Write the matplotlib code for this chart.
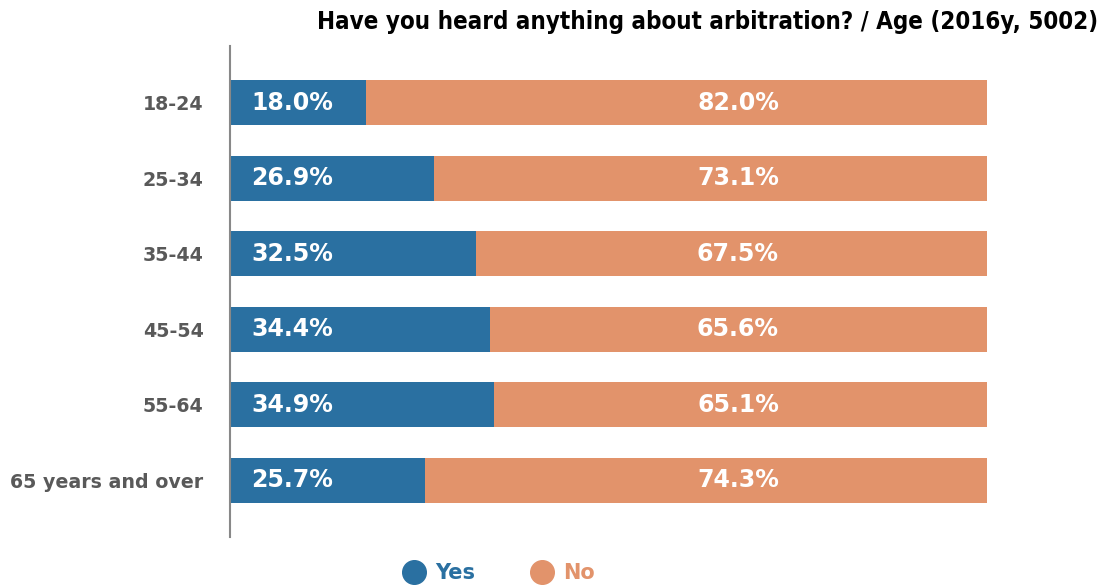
import matplotlib.pyplot as plt
from matplotlib.lines import Line2D

age_groups = ["18-24", "25-34", "35-44", "45-54", "55-64", "65 years and over"]
yes_pct = [18.0, 26.9, 32.5, 34.4, 34.9, 25.7]
no_pct = [82.0, 73.1, 67.5, 65.6, 65.1, 74.3]

BLUE = "#2a70a1"
ORANGE = "#e2936b"

fig = plt.figure(figsize=(11.11, 5.87), dpi=100)
ax = fig.add_axes([230 / 1111, 1 - 537 / 587, 757 / 1111, 491 / 587])

ypos = list(range(len(age_groups)))
ax.barh(ypos, yes_pct, height=0.6, color=BLUE)
ax.barh(ypos, no_pct, left=yes_pct, height=0.6, color=ORANGE)

for y, yv, nv in zip(ypos, yes_pct, no_pct):
    ax.text(2.8, y, f"{yv:.1f}%", color="white", fontsize=17, fontweight="bold",
            ha="left", va="center")
    ax.text(67.1, y, f"{nv:.1f}%", color="white", fontsize=17, fontweight="bold",
            ha="center", va="center")

ax.set_xlim(0, 100)
ax.set_ylim(len(age_groups) - 0.25, -0.75)
ax.set_yticks(ypos)
ax.set_yticklabels(age_groups, fontsize=13.7, fontweight="bold", color="#595959")
ax.tick_params(axis="y", length=0, pad=19)
ax.set_xticks([])
for side in ["top", "right", "bottom"]:
    ax.spines[side].set_visible(False)
ax.spines["left"].set_color("#888888")
ax.spines["left"].set_linewidth(1.5)

fig.text(1098 / 1111, 1 - 22 / 587, "Have you heard anything about arbitration? / Age (2016y, 5002)",
         ha="right", va="center", fontsize=17.3, fontweight="bold", fontstretch="condensed")

handles = [
    Line2D([], [], marker="o", linestyle="none", markersize=17, color=BLUE),
    Line2D([], [], marker="o", linestyle="none", markersize=17, color=ORANGE),
]
leg = fig.legend(handles, ["Yes", "No"], loc="center", bbox_to_anchor=(494 / 1111, 1 - 573 / 587),
                 ncol=2, frameon=False, prop={"size": 15, "weight": "bold"},
                 handletextpad=0.0, columnspacing=2.2)
for txt, c in zip(leg.get_texts(), [BLUE, ORANGE]):
    txt.set_color(c)

fig.savefig("out.png", dpi=100)
